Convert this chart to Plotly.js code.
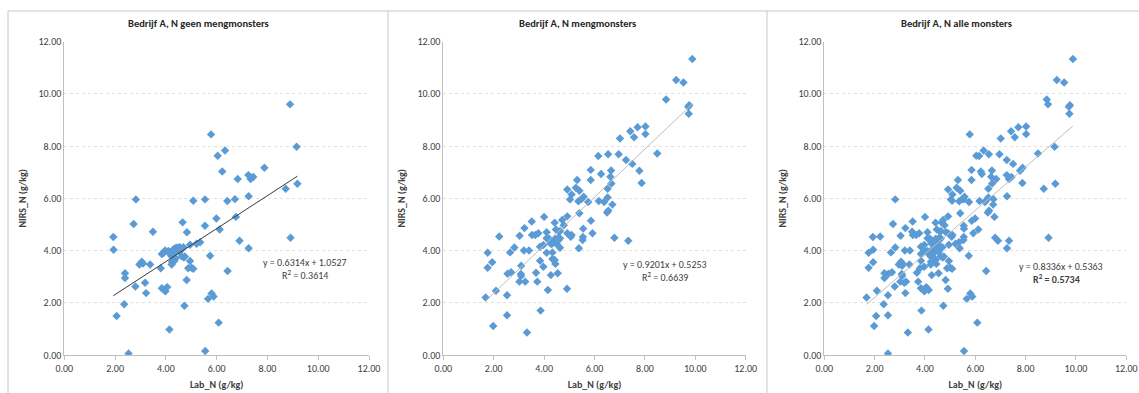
<!DOCTYPE html>
<html>
<head>
<meta charset="utf-8">
<script src="https://cdn.plot.ly/plotly-3.0.1.min.js"></script>
<style>
html,body{margin:0;padding:0;background:#fff;}
#chart{width:1139px;height:393px;}
</style>
</head>
<body>
<div id="chart"></div>
<script>
// ---- Data ----
const chartTitles = ["Bedrijf A, N geen mengmonsters", "Bedrijf A, N mengmonsters", "Bedrijf A, N alle monsters"];
const xAxisTitle = "Lab_N (g/kg)";
const yAxisTitle = "NIRS_N (g/kg)";
const yTickVals = [0, 2, 4, 6, 8, 10, 12];
const xTickVals = [0, 2, 4, 6, 8, 10, 12];

// Panel 1: geen mengmonsters
const labGeen = [8.89,5.78,9.15,6.33,6.04,7.88,6.22,7.25,7.44,7.34,6.83,9.18,8.72,7.26,2.82,5.08,5.54,6.42,6.72,5.99,
  6.76,2.73,4.66,5.54,6.12,3.49,4.83,1.93,8.91,6.90,5.35,5.21,7.26,1.94,4.95,3.97,3.90,3.84,4.40,4.53,
  4.69,4.29,4.23,4.27,4.23,4.71,5.74,4.95,4.88,5.01,5.08,4.82,6.43,3.05,2.96,3.10,3.38,3.80,2.39,2.39,
  2.80,3.18,3.22,3.84,3.95,4.05,3.98,2.36,4.73,5.66,5.80,5.88,2.06,2.53,4.14,5.55,6.08,4.33,4.35,4.55,
  4.62,4.10,4.30,4.45,4.38,4.18,4.42,4.56,4.75,4.24];
const nirsGeen = [9.60,8.45,7.98,7.83,7.63,7.17,7.03,6.89,6.82,6.74,6.74,6.56,6.37,6.08,5.96,5.91,5.96,5.90,5.97,5.23,
  5.29,5.02,5.08,4.95,4.81,4.72,4.70,4.52,4.49,4.38,4.32,4.26,4.09,4.03,4.22,4.00,3.90,3.87,4.11,4.13,
  4.13,3.96,3.77,3.57,3.47,3.73,3.80,3.60,3.32,3.34,3.30,2.87,3.22,3.57,3.47,3.50,3.47,3.32,3.13,2.95,
  2.62,2.77,2.37,2.56,2.48,2.60,2.44,1.94,1.89,2.15,2.36,2.24,1.49,0.06,0.98,0.15,1.24,3.60,3.90,3.95,
  3.78,3.98,4.05,4.10,3.70,3.85,4.09,4.12,3.77,3.57];

// Panel 2: mengmonsters
const labMeng = [9.88,9.24,9.53,8.84,9.76,9.72,9.74,7.71,8.02,7.42,7.57,8.02,7.01,8.49,6.15,6.54,6.96,7.25,7.50,5.85,
  6.66,7.78,6.26,6.63,5.31,5.85,6.67,7.87,4.92,5.26,5.40,6.52,5.09,5.57,5.48,5.03,5.36,5.75,6.17,6.38,
  6.52,6.71,5.40,6.50,6.55,5.86,5.55,5.92,6.79,7.34,5.54,5.53,5.38,4.92,4.72,4.78,4.42,4.00,3.51,3.22,
  3.03,2.22,3.52,3.65,3.77,4.10,4.60,4.92,5.06,5.09,4.10,4.23,4.63,4.58,4.39,4.30,3.97,3.84,4.63,2.82,
  3.20,3.40,1.76,2.65,4.10,4.33,3.84,4.33,4.42,1.94,1.76,3.97,4.45,3.09,2.55,2.69,3.08,3.09,3.68,4.27,
  4.54,3.02,3.25,3.73,2.09,4.15,4.91,1.68,2.53,3.86,2.53,1.98,3.32,4.47,4.25,4.35,4.45,4.50,4.20,4.63,
  4.43,4.55,4.30];
const nirsMeng = [11.34,10.53,10.44,9.79,9.57,9.51,9.24,8.72,8.75,8.57,8.34,8.46,8.29,7.72,7.62,7.69,7.69,7.47,7.32,7.09,
  7.07,7.06,6.93,6.83,6.70,6.70,6.57,6.59,6.34,6.41,6.29,6.37,6.15,6.06,5.97,5.96,5.89,5.86,5.90,5.86,
  6.03,5.76,5.43,5.46,5.53,5.14,4.84,4.66,4.49,4.38,4.52,4.40,4.09,5.31,5.17,4.97,5.07,5.29,5.11,4.86,
  4.57,4.54,4.60,4.60,4.66,4.70,4.72,4.66,4.53,4.60,4.47,4.40,4.47,4.40,4.34,4.25,4.21,4.15,4.11,4.12,
  4.00,4.00,3.92,3.93,3.92,3.93,3.61,3.68,3.64,3.55,3.34,3.38,3.49,3.42,3.11,3.17,3.10,3.03,3.15,3.06,
  3.13,2.81,2.81,2.81,2.46,2.49,2.54,2.20,2.29,1.70,1.52,1.11,0.86,4.81,4.28,4.30,4.38,4.25,4.45,4.75,
  4.45,4.47,4.30];

// Panel 3: alle monsters = both sets
const labAlle = labGeen.concat(labMeng);
const nirsAlle = nirsGeen.concat(nirsMeng);

// Trendline equations as printed on the chart
const slopes = [0.6314, 0.9201, 0.8336];
const intercepts = [1.0527, 0.5253, 0.5363];
const r2Values = ["0.3614", "0.6639", "0.5734"];

// ---- Figure ----
const W = 1139, H = 393;
const px = v => v / W;
const py = v => 1 - v / H;

const panels = [
  {lab: labGeen, nirs: nirsGeen, x0: 64.3, x1: 369.0, lineColor: "#3a3a3a", eqX: 9.48, r2X: 9.48, r2Bold: false},
  {lab: labMeng, nirs: nirsMeng, x0: 443.3, x1: 745.7, lineColor: "#bdbdbd", eqX: 8.80, r2X: 8.80, r2Bold: false},
  {lab: labAlle, nirs: nirsAlle, x0: 824.3, x1: 1126.3, lineColor: "#bdbdbd", eqX: 9.40, r2X: 9.22, r2Bold: true}
];
const plotTop = 41.7, plotBottom = 355;
const chartBoxes = [[8, 388], [388, 767], [767, 1146]];

const fontFam = "Carlito, Calibri, Lato, 'Open Sans', sans-serif";
const traces = [];
const layout = {
  width: W, height: H,
  margin: {l: 0, r: 0, t: 0, b: 0},
  paper_bgcolor: "#ffffff",
  plot_bgcolor: "#ffffff",
  showlegend: false,
  font: {family: fontFam, size: 10, color: "#404040"},
  annotations: [],
  shapes: []
};

panels.forEach((p, i) => {
  const sfx = i === 0 ? "" : String(i + 1);
  const xa = "x" + sfx, ya = "y" + sfx;
  traces.push({
    type: "scatter", mode: "markers",
    x: p.lab, y: p.nirs, xaxis: xa, yaxis: ya,
    marker: {symbol: "diamond", size: 6.5, color: "#5b9bd5", line: {width: 0}},
    hoverinfo: "x+y"
  });
  const xmin = Math.min(...p.lab), xmax = Math.max(...p.lab);
  traces.push({
    type: "scatter", mode: "lines",
    x: [xmin, xmax],
    y: [slopes[i] * xmin + intercepts[i], slopes[i] * xmax + intercepts[i]],
    xaxis: xa, yaxis: ya,
    line: {color: p.lineColor, width: 1},
    hoverinfo: "skip"
  });
  const axCommon = {
    range: [0, 12], showline: true, linecolor: "#bfbfbf", linewidth: 1,
    ticks: "outside", ticklen: 4, tickcolor: "#bfbfbf",
    tickformat: ".2f", zeroline: false,
    tickfont: {family: fontFam, size: 10, color: "#404040"}, fixedrange: true
  };
  layout["xaxis" + sfx] = Object.assign({}, axCommon, {
    domain: [px(p.x0), px(p.x1)], anchor: ya,
    tickvals: xTickVals, showgrid: false,
    title: {text: "<b>" + xAxisTitle + "</b>", font: {family: fontFam, size: 10, color: "#404040"}, standoff: 6}
  });
  layout["yaxis" + sfx] = Object.assign({}, axCommon, {
    domain: [py(plotBottom), py(plotTop)], anchor: xa,
    tickvals: yTickVals, showgrid: true, gridcolor: "#e0e0e0", griddash: "dot", gridwidth: 1,
    ticks: "",
    title: {text: "<b>" + yAxisTitle + "</b>", font: {family: fontFam, size: 10, color: "#404040"}, standoff: 9}
  });
  // chart title
  layout.annotations.push({
    xref: "paper", yref: "paper", x: px((chartBoxes[i][0] + chartBoxes[i][1]) / 2), y: py(24),
    xanchor: "center", yanchor: "middle", showarrow: false,
    text: "<b>" + chartTitles[i] + "</b>", font: {family: fontFam, size: 10.5, color: "#262626"}
  });
  // equation
  const sign = intercepts[i] >= 0 ? " + " : " - ";
  layout.annotations.push({
    xref: xa, yref: ya, x: p.eqX, y: 3.45 + (i === 0 ? 0.1 : 0) - (i === 2 ? 0.05 : 0),
    xanchor: "center", yanchor: "middle", showarrow: false,
    text: "y = " + slopes[i].toFixed(4) + "x" + sign + Math.abs(intercepts[i]).toFixed(4),
    font: {family: fontFam, size: 10, color: "#404040"}
  });
  const r2Text = "R<sup>2</sup> = " + r2Values[i];
  layout.annotations.push({
    xref: xa, yref: ya, x: p.r2X, y: 2.98 + (i === 0 ? 0.08 : 0) - (i === 2 ? 0.05 : 0),
    xanchor: "center", yanchor: "middle", showarrow: false,
    text: p.r2Bold ? "<b>" + r2Text + "</b>" : r2Text,
    font: {family: fontFam, size: 10, color: "#404040"}
  });
});

// chart-area borders
const borderColor = "#c8c8c8";
layout.shapes.push({type: "line", xref: "paper", yref: "paper", x0: px(8), x1: 1, y0: py(11), y1: py(11), line: {color: borderColor, width: 1}});
[8, 388, 767].forEach(xv => {
  layout.shapes.push({type: "line", xref: "paper", yref: "paper", x0: px(xv), x1: px(xv), y0: py(11), y1: 0, line: {color: borderColor, width: 1}});
});

Plotly.newPlot("chart", traces, layout, {displayModeBar: false, staticPlot: true});
</script>
</body>
</html>
